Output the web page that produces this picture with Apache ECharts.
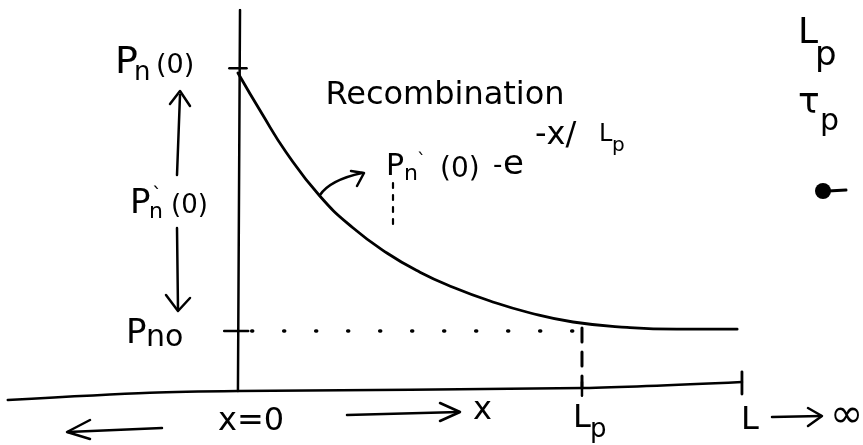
<!DOCTYPE html>
<html>
<head>
<meta charset="utf-8">
<script src="https://cdn.jsdelivr.net/npm/echarts@6/dist/echarts.min.js"></script>
<style>
  html, body { margin: 0; padding: 0; background: #fff; }
  #chart { width: 863px; height: 445px; }
</style>
</head>
<body>
<div id="chart"></div>
<script>
// Excess hole concentration in an n-type bar, decaying away from the injection plane x = 0.
// x is measured in units of the diffusion length Lp, concentration in units of pno.
const curveX = [0, 0.07, 0.14, 0.238, 0.334, 0.433, 0.529, 0.625, 0.733, 0.85, 0.974, 1.131, 1.276, 1.451];
const curveY = [5.3, 4.62, 3.98, 3.25, 2.72, 2.3, 1.98, 1.73, 1.5, 1.3, 1.15, 1.06, 1.03, 1.03];

// Hand-drawn baseline (distance axis), slightly tilted
const baseX = [-0.669, -0.256, 0, 1.003, 1.465];
const baseY = [-0.15, -0.03, 0, 0.05, 0.15];

// Reference levels and positions
const pn0 = 5.38;     // p_n(0)
const pno = 1.0;      // equilibrium level
const xLp = 1.0;      // x = Lp
const xL = 1.465;     // end of bar, L -> infinity
const yTop = 6.35;

const zip = (xs, ys) => xs.map((x, i) => [x, ys[i]]);
const ink = '#000';
const font = "'DejaVu Sans', sans-serif";

function seg(name, pts, width, type) {
  return {
    name, type: 'line', data: pts, symbol: 'none', silent: true, animation: false,
    lineStyle: { color: ink, width: width || 2.5, type: type || 'solid', cap: 'round', join: 'round' },
    z: 2
  };
}

const series = [
  seg('curve', zip(curveX, curveY), 2.8),
  seg('baseline', zip(baseX, baseY), 2.5),
  seg('vertical axis', [[0, 0], [0.006, yTop]], 2.5),
  seg('pn0 tick', [[-0.025, pn0], [0.025, pn0]], 2.5),
  seg('pno tick', [[-0.04, pno], [0.03, pno]], 2.5),
  seg('Lp tick', [[xLp, -0.08], [xLp, 0.15]], 2.5),
  seg('L tick', [[xL, -0.05], [xL, 0.32]], 2.8),
  seg('pno level', [[0.04, pno], [xLp, pno]], 3.5, [1, 31]),
  seg('Lp drop', [[xLp, pno + 0.05], [xLp, 0.05]], 3, [14, 10])
];
series[0].smooth = 0.5;
series[1].smooth = 0.3;

function txt(s, x, y, size, extra) {
  return {
    type: 'text', silent: true, z: 10,
    style: Object.assign({
      text: s, x, y, fill: ink, font: `${size}px ${font}`,
      textAlign: 'left', textVerticalAlign: 'middle'
    }, extra || {})
  };
}
function line(x1, y1, x2, y2, w, dash) {
  return {
    type: 'line', silent: true, z: 10,
    shape: { x1, y1, x2, y2 },
    style: { stroke: ink, lineWidth: w || 2.5, lineCap: 'round', lineDash: dash || null }
  };
}
function head(pts, w) {
  return {
    type: 'polyline', silent: true, z: 10,
    shape: { points: pts },
    style: { stroke: ink, lineWidth: w || 2.5, lineCap: 'round', lineJoin: 'round', fill: null }
  };
}

const graphic = [
  // p_n(0)
  txt('P', 115, 63, 38),
  txt('n', 134, 73, 26),
  txt('(0)', 156, 66, 27),
  // p_n'(0) with arrows
  line(177, 175, 180, 95),
  head([[170, 104], [180, 91], [190, 106]]),
  txt('P', 130, 204, 34),
  txt('n', 149, 212, 22),
  txt('`', 152, 196, 20),
  txt('(0)', 171, 206, 26),
  line(177, 228, 178, 310),
  head([[166, 295], [178, 311], [190, 298]]),
  // p_no
  txt('P', 126, 334, 34),
  txt('no', 146, 338, 30),
  // Recombination
  txt('Recombination', 445, 96, 32, { textAlign: 'center' }),
  // pointer arrow from curve
  {
    type: 'bezierCurve', silent: true, z: 10,
    shape: { x1: 320, y1: 195, cpx1: 330, cpy1: 180, x2: 362, y2: 173 },
    style: { stroke: ink, lineWidth: 2.5, fill: null, lineCap: 'round' }
  },
  head([[351, 171], [364, 173], [357, 186]]),
  // p_n'(0) e^{-x/Lp}
  txt('P', 386, 167, 30),
  txt('n', 404, 174, 22),
  txt('`', 417, 161, 18),
  txt('(0)', 440, 170, 28),
  txt('-', 493, 166, 26),
  txt('e', 503, 165, 34),
  txt('-x/', 535, 136, 32),
  txt('L', 599, 135, 24),
  txt('p', 612, 146, 20),
  line(393, 183, 393, 228, 2.2, [5, 7]),
  // bottom labels
  line(162, 428, 68, 432),
  head([[90, 420], [67, 432], [90, 439]]),
  txt('x=0', 251, 422, 32, { textAlign: 'center' }),
  line(347, 415, 459, 412),
  head([[440, 403], [460, 412], [440, 421]]),
  txt('x', 473, 411, 32),
  txt('L', 573, 419, 32),
  txt('p', 590, 430, 26),
  txt('L', 741, 421, 32),
  line(772, 417, 821, 416),
  head([[808, 408], [822, 416], [808, 426]]),
  txt('∞', 830, 417, 40),
  // top-right notes
  txt('L', 798, 34, 36),
  txt('p', 815, 56, 34),
  txt('τ', 798, 104, 36),
  txt('p', 820, 122, 30),
  { type: 'circle', silent: true, z: 10, shape: { cx: 823, cy: 191, r: 8 }, style: { fill: ink } },
  line(828, 191, 846, 190, 3)
];

const chart = echarts.init(document.getElementById('chart'), null, { renderer: 'canvas' });
chart.setOption({
  animation: false,
  backgroundColor: '#fff',
  grid: { left: 4, right: 109, top: 10, bottom: 24 },
  xAxis: { type: 'value', min: -0.68, max: 1.5, show: false },
  yAxis: { type: 'value', min: -0.5, max: yTop, show: false },
  series,
  graphic
});
</script>
</body>
</html>
